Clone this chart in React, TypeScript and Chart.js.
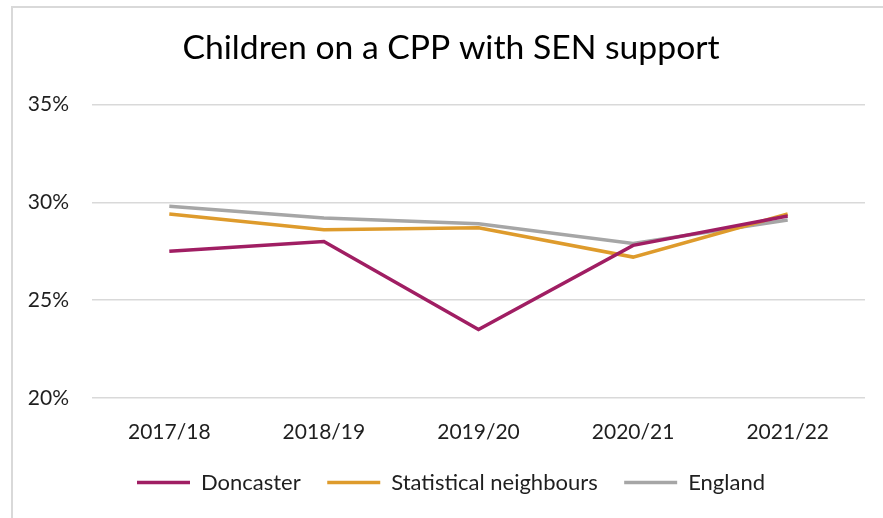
import React, { useEffect, useRef } from 'react';
import { Chart, registerables } from 'chart.js';

Chart.register(...registerables);

const categories = ['2017/18', '2018/19', '2019/20', '2020/21', '2021/22'];
const doncaster = [27.5, 28.0, 23.5, 27.8, 29.3];
const statNeighbours = [29.4, 28.6, 28.7, 27.2, 29.4];
const england = [29.8, 29.2, 28.9, 27.9, 29.1];
const seriesNames = ['Doncaster', 'Statistical neighbours', 'England'];
const seriesColors = ['#A01E63', '#DE9B2C', '#A6A6A6'];
const titleText = 'Children on a CPP with SEN support';
const yMin = 20;
const yMax = 35;
const yStep = 5;

const FONT = 'Lato, "Open Sans", sans-serif';

export default function App() {
  const ref = useRef<HTMLCanvasElement | null>(null);

  useEffect(() => {
    document.body.style.margin = '0';
    const canvas = ref.current;
    if (!canvas) return;
    const values = [doncaster, statNeighbours, england];
    const chart = new Chart(canvas, {
      type: 'line',
      data: {
        labels: categories,
        datasets: seriesNames.map((name, i) => ({
          label: name,
          data: values[i],
          borderColor: seriesColors[i],
          backgroundColor: seriesColors[i],
          borderWidth: 3.5,
          pointRadius: 0,
          pointHoverRadius: 0,
          tension: 0,
          fill: false,
          yAxisID: 'y',
        })),
      },
      options: {
        animation: false,
        responsive: false,
        devicePixelRatio: 1,
        layout: { padding: { left: 19, right: 0, top: 0, bottom: 14.5 } },
        plugins: {
          title: {
            display: true,
            text: titleText,
            color: '#000000',
            font: { family: FONT, size: 33.7, weight: 'normal' },
            padding: { top: 28, bottom: 36 },
          },
          legend: {
            display: true,
            position: 'bottom',
            labels: {
              usePointStyle: true,
              pointStyle: 'line',
              pointStyleWidth: 53,
              boxHeight: 22,
              padding: 26.5,
              color: '#1F1F1F',
              font: { family: FONT, size: 22 },
            },
          },
          tooltip: { enabled: false },
        },
        scales: {
          x: {
            type: 'category',
            offset: true,
            grid: { display: false, drawTicks: false },
            border: { display: false },
            ticks: {
              color: '#1F1F1F',
              font: { family: FONT, size: 21 },
              padding: 22,
              maxRotation: 0,
            },
            afterFit: (scale: any) => {
              scale.height = 47;
            },
          },
          y: {
            min: yMin,
            max: yMax,
            position: 'left',
            grid: { color: '#D9D9D9', lineWidth: 1.5, drawTicks: false },
            border: { display: false },
            ticks: {
              stepSize: yStep,
              color: '#1F1F1F',
              font: { family: FONT, size: 21 },
              padding: 23,
              callback: (v: any) => `${v}%`,
            },
            afterFit: (scale: any) => {
              scale.width = 73;
            },
          },
          yRight: {
            type: 'linear',
            position: 'right',
            min: yMin,
            max: yMax,
            grid: { display: false, drawTicks: false },
            border: { display: false },
            ticks: { display: false },
            afterFit: (scale: any) => {
              scale.width = 18;
            },
          },
        },
      },
    });
    return () => chart.destroy();
  }, []);

  return (
    <div style={{ position: 'relative', width: 883, height: 518, overflow: 'hidden', background: '#ffffff' }}>
      <div
        style={{
          position: 'absolute',
          left: 11,
          top: 6,
          width: 1000,
          height: 1000,
          borderLeft: '2px solid #D9D9D9',
          borderTop: '2px solid #D9D9D9',
        }}
      />
      <canvas
        ref={ref}
        width={883}
        height={518}
        style={{ position: 'absolute', left: 0, top: 0, width: 883, height: 518, display: 'block' }}
      />
    </div>
  );
}
